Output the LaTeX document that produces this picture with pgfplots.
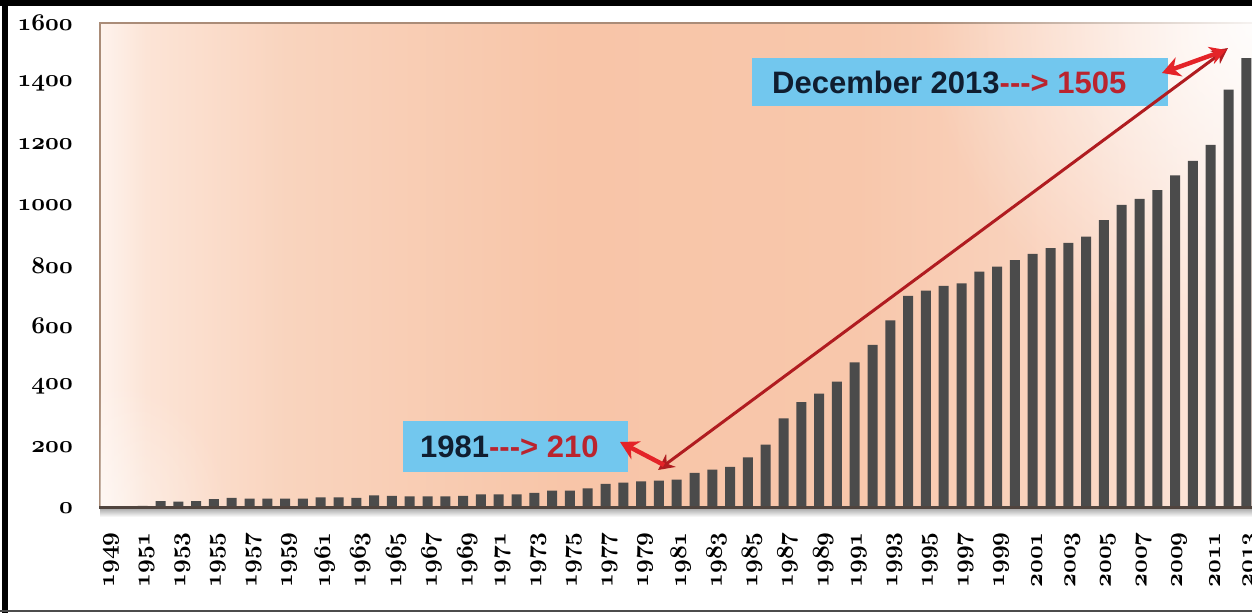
\RequirePackage{fix-cm}
\documentclass[border=0pt]{standalone}
\usepackage{pgfplots}
\pgfplotsset{compat=1.18}
\usepackage{fontspec}
\newfontfamily\arialb{Liberation Sans}[BoldFont={Liberation Sans Bold}]
\usetikzlibrary{arrows.meta,fadings}
\tikzfading[name=glow, inner color=transparent!0, outer color=transparent!100]
\definecolor{barcol}{RGB}{75,75,75}
\definecolor{boxblue}{RGB}{114,199,238}
\definecolor{navy}{RGB}{16,30,48}
\definecolor{txtred}{RGB}{186,36,46}
\definecolor{darkred}{RGB}{176,28,32}
\definecolor{brightred}{RGB}{228,35,40}
\definecolor{bgA}{RGB}{254,243,237}
\definecolor{bgB}{RGB}{252,228,214}
\definecolor{bgC}{RGB}{249,212,190}
\definecolor{bgD}{RGB}{248,197,168}
\definecolor{bgE}{RGB}{248,199,171}
\definecolor{bgF}{RGB}{250,214,195}
\definecolor{bgG}{RGB}{253,236,228}
\definecolor{frameline}{RGB}{170,140,120}
\definecolor{axisdark}{RGB}{80,68,62}
\pgfdeclarehorizontalshading{mybg}{100bp}{color(0bp)=(bgA); color(25bp)=(bgA); color(27bp)=(bgB); color(33bp)=(bgC); color(45bp)=(bgD); color(57.5bp)=(bgE); color(67.5bp)=(bgF); color(75bp)=(bgG); color(100bp)=(bgG)}
\newcommand{\os}[1]{{\boldmath$\mathnormal{#1}$}}
\pgfplotstableread{
year value
1949 0
1950 0
1951 7
1952 23
1953 21
1954 23
1955 29
1956 33
1957 31
1958 31
1959 31
1960 31
1961 35
1962 35
1963 33
1964 42
1965 40
1966 38
1967 38
1968 38
1969 40
1970 45
1971 45
1972 45
1973 50
1974 57
1975 57
1976 65
1977 80
1978 84
1979 88
1980 90
1981 94
1982 116
1983 127
1984 136
1985 167
1986 209
1987 296
1988 349
1989 377
1990 417
1991 480
1992 538
1993 619
1994 700
1995 717
1996 733
1997 741
1998 780
1999 796
2000 818
2001 838
2002 857
2003 875
2004 895
2005 950
2006 1000
2007 1020
2008 1049
2009 1097
2010 1145
2011 1198
2012 1380
2013 1484
}\datatable
\begin{document}
\begin{tikzpicture}[x=1pt,y=1pt]
\path[use as bounding box] (0,0) rectangle (1252,613);
\clip (0,0) rectangle (1252,613);
\fill[white] (0,0) rectangle (1252,613);
% shadow under axis
\shade[top color=black!35, bottom color=white] (100,96) rectangle (1252,105);
\begin{axis}[
  at={(100pt,105pt)}, anchor=south west,
  scale only axis, width=1164.1pt, height=485pt,
  xmin=1948.6, xmax=2014, ymin=0, ymax=1600,
  axis background/.style={shading=mybg},
  axis line style={draw=frameline, line width=1.5pt},
  major tick length=0pt,
  ybar, bar width=10pt,
  xtick={1949,1951,...,2013},
  xticklabels={\os{1949},\os{1951},\os{1953},\os{1955},\os{1957},\os{1959},\os{1961},\os{1963},\os{1965},\os{1967},\os{1969},\os{1971},\os{1973},\os{1975},\os{1977},\os{1979},\os{1981},\os{1983},\os{1985},\os{1987},\os{1989},\os{1991},\os{1993},\os{1995},\os{1997},\os{1999},\os{2001},\os{2003},\os{2005},\os{2007},\os{2009},\os{2011},\os{2013}},
  ytick={0,200,...,1600},
  yticklabels={\os{0},\os{200},\os{400},\os{600},\os{800},\os{1000},\os{1200},\os{1400},\os{1600}},
  xticklabel style={font=\fontsize{24}{28}\selectfont, yshift=-24pt, xshift=4pt, rotate=90, anchor=east, inner sep=0pt},
  yticklabel style={font=\fontsize{24}{28}\selectfont, xshift=-27pt, anchor=east, inner sep=0pt},
]
\fill[white, path fading=glow, opacity=0.9] (axis cs:2013.5,1600) circle (330pt);
\fill[white, path fading=glow, opacity=0.4] (axis cs:1948.6,0) circle (130pt);
\addplot[fill=barcol, draw=none] table[x=year, y=value] {\datatable};
\end{axis}
\draw[axisdark, line width=3pt] (99,105) -- (1252,105);
% frame
\fill[black] (0,607) rectangle (1252,613);
\fill[black] (2,0) rectangle (8,613);
\fill[black!70] (0,1) rectangle (1252,3.5);
% annotation boxes
\fill[boxblue] (403,141) rectangle (628,192);
\node[anchor=west, inner sep=0pt, font=\arialb\bfseries\fontsize{31}{34}\selectfont] at (420,166.5) {\textcolor{navy}{1981}\textcolor{txtred}{---> 210}};
\fill[boxblue] (752,507) rectangle (1168,555);
\node[anchor=west, inner sep=0pt, font=\arialb\bfseries\fontsize{31}{34}\selectfont] at (772,531) {\textcolor{navy}{December 2013}\textcolor{txtred}{---> 1505}};
% arrows
\draw[darkred, line width=3pt, {Stealth[length=16pt,width=16pt]}-{Stealth[length=16pt,width=16pt]}] (658,143) -- (1228,565);
\draw[brightred, line width=4.5pt, -{Stealth[length=18pt,width=20pt]}] (664,148) -- (620,171);
\draw[brightred, line width=4.5pt, {Stealth[length=18pt,width=20pt]}-{Stealth[length=16pt,width=18pt]}] (1162,540) -- (1226,563);
\end{tikzpicture}
\end{document}
